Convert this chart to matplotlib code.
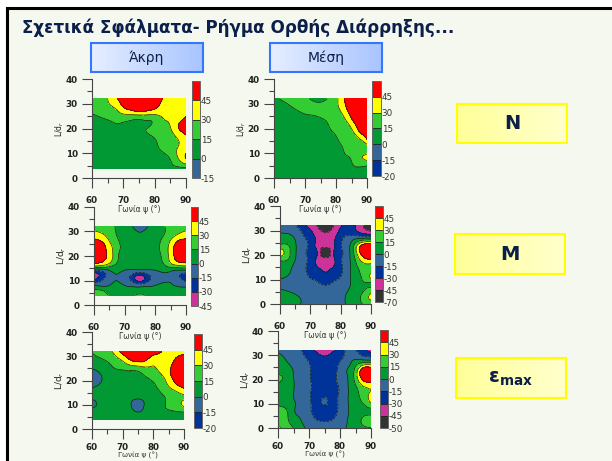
"""Relative errors of the normal-fault slide: six contour panels with their boxes."""
import matplotlib
matplotlib.use("Agg")
import matplotlib.pyplot as plt
import matplotlib.tri as mtri
from matplotlib.patches import Rectangle
import numpy as np

W, H = 612, 461
BG = "#F5F8EE"

RED, YEL, LGR, GRN = "#FF0000", "#FFFF00", "#33CC33", "#009933"
STL, NVY, MAG, DRK = "#336699", "#003399", "#CC3399", "#333333"

TITLE = "Σχετικά Σφάλματα- Ρήγμα Ορθής Διάρρηξης..."
PSI = [60, 62.5, 65, 67.5, 70, 72.5, 75, 77.5, 80, 82.5, 85, 87.5, 90]

# N, tip
N_TIP_LD = [32, 28, 24, 20, 16, 12, 8, 4]
N_TIP = [
    [18, 24, 30, 42, 52, 58, 60, 58, 52, 45, 40, 38, 38],
    [17, 20, 25, 30, 42, 50, 56, 52, 46, 38, 36, 37, 40],
    [13, 14, 16, 19, 20, 18, 17, 18, 20, 29, 33, 40, 47],
    [8, 9, 10, 12, 12, 13, 13, 15, 18, 22, 29, 44, 53],
    [5, 6, 6, 7, 7, 8, 9, 12, 15, 19, 24, 31, 40],
    [4, 4, 4, 4, 5, 5, 6, 8, 12, 17, 22, 31, 38],
    [3, 3, 3, 3, 3, 4, 4, 4, 6, 10, 16, 30, 46],
    [3, 3, 3, 3, 3, 3, 3, 3, 4, 6, 12, 12, 11],
]
# N, middle
N_MID_LD = [32, 28, 24, 20, 16, 12, 8, 4, 0]
N_MID = [
    [13, 16, 18, 19, 18, 13, 12, 16, 26, 43, 60, 70, 70],
    [8, 10, 13, 16, 18, 18, 18, 20, 26, 38, 55, 62, 65],
    [6, 7, 8, 10, 12, 13, 14.5, 17, 21, 28, 45, 58, 62],
    [5, 6, 7, 8, 9, 10, 11, 14, 18, 22, 30, 50, 58],
    [4, 4, 5, 6, 7, 8, 9, 11, 14, 19, 22, 30, 47],
    [3, 3, 4, 4, 5, 6, 7, 9, 12, 15.5, 19, 22, 24],
    [3, 3, 3, 4, 4, 5, 5, 7, 9, 13, 16, 26, 33],
    [3, 3, 3, 3, 4, 4, 4, 5, 7, 10, 12, 13, 8],
    [3, 3, 3, 3, 3, 4, 4, 4, 5, 5, 5, 5, 5],
]
# M, tip
M_TIP_LD = [32, 28, 24, 20, 16, 14, 11, 8, 6, 4]
M_TIP = [
    [25, 22, 20, 13, 8, 0, -6, 0, 8, 14, 18, 22, 25],
    [40, 35, 25, 15, 10, 7, 3, 7, 10, 15, 25, 35, 40],
    [58, 52, 36, 20, 11, 8, 6, 8, 11, 20, 36, 55, 58],
    [58, 50, 40, 18, 10, 8, 7, 8, 10, 18, 36, 55, 60],
    [31, 28, 20, 11, 7, 6, 5, 6, 7, 12, 22, 28, 31],
    [-15, -12, -1, 4, -1, -3, -4, -3, -1, 4, 2, -3, -3],
    [-40, -21, -7, -1, -9, -22, -40, -22, -9, -5, -4, -12, -22],
    [2, -3, 0, 3, 0, -3, -6, -3, 0, 4, 2, -2, -4],
    [17, 15, 8, 6, 5, 5, 6, 5, 5, 6, 6, 5, 5],
    [32, 24, 14, 10, 8, 10, 20, 10, 8, 8, 7, 7, 7],
]
# M, middle
M_MID_LD = [32, 28, 24, 21, 18, 14, 11, 8, 4, 0]
M_MID = [
    [-8, -10, -14, -25, -36, -48, -60, -47, -32, -25, -30, -45, -52],
    [2, 2, -3, -14, -24, -36, -40, -36, -22, -15, -16, -20, -22],
    [17, 16, 2, -10, -19, -35, -38, -33, -16, -5, 24, 50, 55],
    [36, 22, 2, -10, -20, -33, -60, -33, -17, -5, 26, 55, 62],
    [17, 15, 0, -10, -20, -33, -38, -33, -17, -4, 17, 38, 42],
    [6, 3, -4, -12, -20, -28, -31, -28, -18, -4, 10, 20, 22],
    [2, -1, -5, -10, -16, -20, -24, -20, -15, -3, 6, 20, 34],
    [-4, -6, -8, -9, -10, -13, -16, -13, -9, -2, 4, 12, 12],
    [6, 4, 0, -3, -5, -6, -6, -6, -5, 2, 8, 18, 32],
    [9, 7, 3, -1, -4, -5, -5, -5, -3, 2, 8, 16, 18],
]
# emax, tip
E_TIP_LD = [32, 28, 24, 21, 17, 13, 10, 7, 4]
E_TIP = [
    [16, 20, 25, 35, 52, 60, 65, 60, 55, 46, 40, 40, 42],
    [9, 12, 15.5, 22, 30, 42, 47, 44, 35, 37, 40, 48, 52],
    [-3, 2, 8, 13, 14, 15, 16, 22, 26, 33, 43, 52, 58],
    [-8, -2, 4, 7, 9, 10, 11, 14, 18, 25, 38, 52, 58],
    [0, 3, 5, 6, 7, 7, 8, 9, 12, 19, 28, 38, 46],
    [4, 5, 6, 6, 6, 3, 2, 3, 7, 12, 18, 23, 28],
    [-6, 3, 5, 5, 4, 1, -6, 2, 6, 11, 18, 24, 33],
    [8, 6, 6, 6, 6, 4, 0, 4, 7, 11, 13, 14, 15.5],
    [7, 7, 7, 7, 7, 7, 7, 7, 8, 9, 10, 11, 11],
]
# emax, middle
E_MID_LD = [32, 28, 24, 21, 16, 11, 7, 4, 0]
E_MID = [
    [-2, -3, -8, -14.5, -24, -33, -38, -33, -23, -12, -15, -25, -35],
    [5, 0, -6, -11, -16, -22, -26, -22, -16, -8, 2, 1, 0],
    [11, 8, -1, -9, -14, -20, -22, -20, -11, 1, 20, 55, 58],
    [16.5, 12, 0, -8, -14, -19, -21, -19, -11, 0, 22, 55, 60],
    [9, 6, 0.5, -8, -14, -17, -18, -17, -14, -1, 11, 25, 30],
    [5, 4, 1, -6, -13, -18, -14, -18, -12, -0.5, 8, 18, 33],
    [26, 18, 2, -5, -13, -18, -19, -18, -12, -1, 6, 9, 10],
    [24, 19, 6, -1, -10, -16, -17, -16, -9, 0, 6, 17, 22],
    [33, 26, 15, 4, -3, -8, -10, -8, -4, 1, 6, 12, 14],
]

# colour bands, low to high; the last level only closes the top band
LV_N_TIP = [-15, 0, 15, 30, 45, 100]
LV_N_MID = [-20, -15, 0, 15, 30, 45, 100]
LV_M_TIP = [-45, -30, -15, 0, 15, 30, 45, 100]
LV_M_MID = [-70, -45, -30, -15, 0, 15, 30, 45, 100]
LV_E_TIP = [-20, -15, 0, 15, 30, 45, 100]
LV_E_MID = [-50, -45, -30, -15, 0, 15, 30, 45, 100]
COL_N_TIP = [STL, GRN, LGR, YEL, RED]
COL_N_MID = [NVY, STL, GRN, LGR, YEL, RED]
COL_M_TIP = [MAG, NVY, STL, GRN, LGR, YEL, RED]
COL_M_MID = [DRK, MAG, NVY, STL, GRN, LGR, YEL, RED]
COL_E_TIP = [NVY, STL, GRN, LGR, YEL, RED]
COL_E_MID = [DRK, MAG, NVY, STL, GRN, LGR, YEL, RED]


def px_axes(fig, x0, x1, ytop, ybot, **kw):
    return fig.add_axes([x0 / W, 1 - ybot / H, (x1 - x0) / W, (ybot - ytop) / H], **kw)


def panel(fig, box, cbox, ld, vals, levels, colors, lab_fs=6.0, bottom=False):
    ax = px_axes(fig, *box)
    ax.patch.set_alpha(0)
    # the contour package smoothed its bands, so refine the read grid with matplotlib's cubic
    gx, gy = np.meshgrid(PSI, ld)
    tri = mtri.Triangulation(gx.ravel(), gy.ravel())
    fine, z = mtri.UniformTriRefiner(tri).refine_field(np.array(vals, float).ravel(), subdiv=3)
    z = np.clip(z, levels[0], levels[-1])
    cs = ax.tricontourf(fine, z, levels=levels, colors=colors)
    ax.tricontour(fine, z, levels=levels[:-1], colors="#1a1a1a", linewidths=0.5)
    ax.set_xlim(60, 90)
    ax.set_ylim(0, 40)
    ax.set_xticks([60, 70, 80, 90])
    ax.set_xticks(np.arange(60, 91, 5), minor=True)
    ax.set_yticks([0, 10, 20, 30, 40])
    ax.set_yticks(np.arange(0, 41, 5), minor=True)
    ax.tick_params(which="major", length=7.2, width=0.8, color="#444444", pad=3,
                   labelsize=6.3, labelcolor="#222222")
    ax.tick_params(axis="x", which="major", pad=3 if bottom else 5.5)
    ax.tick_params(which="minor", length=3.6, width=0.8, color="#444444")
    for lab in ax.get_xticklabels() + ax.get_yticklabels():
        lab.set_fontweight("bold")
    for s in ("top", "right"):
        ax.spines[s].set_visible(False)
    for s in ("left", "bottom"):
        ax.spines[s].set_color("#444444")
        ax.spines[s].set_linewidth(0.8)
    ax.set_xlabel("Γωνία ψ (°)", fontsize=5.2 if bottom else 5.6, color="#333333", labelpad=0)
    ax.set_ylabel("L/d$_r$", fontsize=lab_fs, color="#222222", labelpad=0)

    cax = px_axes(fig, *cbox)
    cb = fig.colorbar(cs, cax=cax, ticks=levels[:-1], drawedges=True)
    cb.outline.set_edgecolor("#666666")
    cb.outline.set_linewidth(0.7)
    cb.dividers.set_color("#222222")
    cb.dividers.set_linewidth(0.6)
    cb.ax.tick_params(length=0, pad=0.5, labelsize=6.3, labelcolor="#333333")
    cb.ax.set_yticklabels([str(v) for v in levels[:-1]])


def gradient_box(ax, x0, x1, y0, y1, left, right, edge, text, fs, weight="normal"):
    c0 = np.array(matplotlib.colors.to_rgb(left))
    c1 = np.array(matplotlib.colors.to_rgb(right))
    t = np.linspace(0, 1, 64)[None, :, None]
    ax.imshow(c0 + (c1 - c0) * t, extent=(x0, x1, y1, y0), aspect="auto", zorder=2)
    ax.add_patch(Rectangle((x0, y0), x1 - x0, y1 - y0, fill=False, ec=edge, lw=1.5, zorder=3))
    ax.text((x0 + x1) / 2, (y0 + y1) / 2, text, ha="center", va="center", fontsize=fs,
            color="#0B1F4B", fontweight=weight, zorder=4)


fig = plt.figure(figsize=(W / 100, H / 100), dpi=100, facecolor="white")

# slide background and text, in pixel coordinates
bg = fig.add_axes([0, 0, 1, 1])
bg.set_xlim(0, W)
bg.set_ylim(H, 0)
bg.axis("off")
bg.add_patch(Rectangle((6.5, 8.5), W + 20, H + 20, fc=BG, ec="black", lw=2.2, zorder=1))
bg.text(22, 28, TITLE, fontsize=12.1, fontweight="bold", color="#0B1F4B",
        ha="left", va="center", zorder=4)

gradient_box(bg, 91, 203, 43, 72, "#E6EEFF", "#A9C5FF", "#3377FF", "Άκρη", 10)
gradient_box(bg, 270, 382, 43, 72, "#E6EEFF", "#A9C5FF", "#3377FF", "Μέση", 10)
gradient_box(bg, 457, 567, 104, 143, "#FFFF99", "#FFFFCC", "#FFFF00", "N", 14, "bold")
gradient_box(bg, 455, 565, 234, 274, "#FFFF99", "#FFFFCC", "#FFFF00", "M", 14, "bold")
gradient_box(bg, 456, 566, 358, 398, "#FFFF99", "#FFFFCC", "#FFFF00", "ε$_{\\mathbf{max}}$", 14, "bold")
bg.set_xlim(0, W)
bg.set_ylim(H, 0)

panel(fig, (92, 186, 79, 178), (192, 200, 81, 178), N_TIP_LD, N_TIP, LV_N_TIP, COL_N_TIP, 5.5)
panel(fig, (274, 367, 79, 178), (372, 381, 81, 176), N_MID_LD, N_MID, LV_N_MID, COL_N_MID, 5.5)
panel(fig, (94, 186, 207, 305), (191, 198, 207, 306), M_TIP_LD, M_TIP, LV_M_TIP, COL_M_TIP, 6.5)
panel(fig, (280, 371, 206, 304), (375, 383, 206, 302), M_MID_LD, M_MID, LV_M_MID, COL_M_MID, 6.5)
panel(fig, (92, 184, 332, 429), (194, 202, 334, 428), E_TIP_LD, E_TIP, LV_E_TIP, COL_E_TIP, 6.5, True)
panel(fig, (278, 371, 331, 428), (380, 388, 330, 428), E_MID_LD, E_MID, LV_E_MID, COL_E_MID, 6.5, True)

fig.savefig("out.png", dpi=100)
